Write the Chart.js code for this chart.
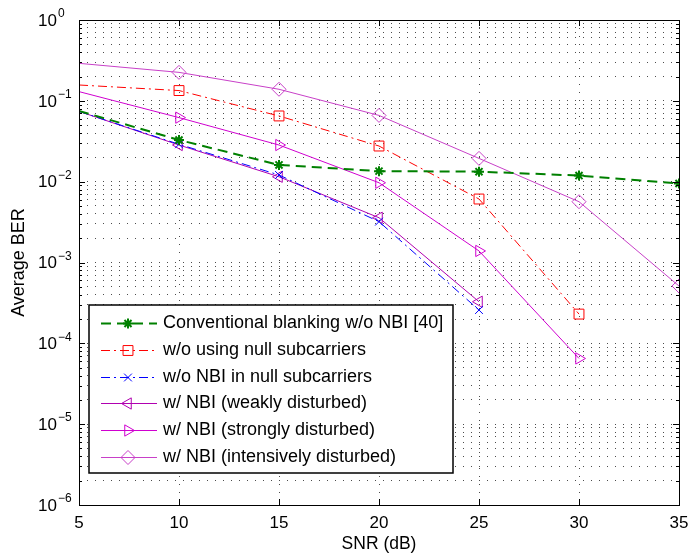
<!DOCTYPE html>
<html>
<head>
<meta charset="utf-8">
<script src="https://cdn.jsdelivr.net/npm/chart.js@4/dist/chart.umd.min.js"></script>
<style>
  html, body { margin: 0; padding: 0; background: #fff; }
  #berChart { display: block; }
</style>
</head>
<body>
<canvas id="berChart" width="691" height="558"></canvas>
<script>
// SNR points (dB) and average BER
const snrDb = [5, 10, 15, 20, 25, 30, 35];
const conventionalBlanking = [0.075, 0.0328, 0.0161, 0.0135, 0.0133, 0.0119, 0.0095];
const withoutNullSubcarriers = [0.157, 0.134, 0.065, 0.0276, 0.0061, 0.00023];
const noNbiInNull = [0.074, 0.029, 0.0121, 0.0032, 0.000258];
const nbiWeakly = [0.074, 0.0284, 0.0115, 0.00358, 0.000327];
const nbiStrongly = [0.130, 0.062, 0.0284, 0.0097, 0.00139, 0.000065];
const nbiIntensively = [0.291, 0.225, 0.139, 0.066, 0.0194, 0.00565, 0.000512];

const xTickLabels = [5, 10, 15, 20, 25, 30, 35];
const yDecades = [0, -1, -2, -3, -4, -5, -6];
const yMinorSteps = [1, 2, 3, 4, 5, 6, 7, 8, 9];

const family = "'Liberation Sans', Arial, Helvetica, sans-serif";

// grid lines at every 1..9 x 10^n like the matlab minor grid
const yGridValues = [];
yDecades.slice(1).forEach(e => {
  yMinorSteps.forEach(m => yGridValues.push(m * Math.pow(10, e)));
});
yGridValues.push(1);

function toPoints(values) {
  return values.map((v, i) => ({ x: snrDb[i], y: v }));
}

function series(label, values, color, dash, width, style, size, rotation, markerWidth) {
  return {
    label: label,
    data: toPoints(values),
    borderColor: color,
    borderWidth: width,
    borderDash: dash,
    pointStyle: style,
    pointRotation: rotation,
    markerSize: size,
    pointRadius: ctx => ctx.dataIndex === 0 ? 0 : size,
    pointBorderColor: color,
    pointBackgroundColor: 'rgba(0,0,0,0)',
    pointBorderWidth: markerWidth,
    fill: false,
    tension: 0
  };
}

const datasets = [
  series('Conventional blanking w/o NBI [40]', conventionalBlanking, '#008000', [10, 6], 2, 'star', 5, 0, 2),
  series('w/o using null subcarriers', withoutNullSubcarriers, '#ff0000', [9, 4, 2, 4], 1, 'rect', 7, 0, 1),
  series('w/o NBI in null subcarriers', noNbiInNull, '#0000ff', [9, 4, 2, 4], 1, 'crossRot', 5.5, 0, 1),
  series('w/ NBI (weakly disturbed)', nbiWeakly, '#b000b0', [], 1, 'triangle', 6.5, -90, 1),
  series('w/ NBI (strongly disturbed)', nbiStrongly, '#d000d0', [], 1, 'triangle', 6.5, 90, 1),
  series('w/ NBI (intensively disturbed)', nbiIntensively, '#c840c8', [], 1, 'rectRot', 7, 0, 1)
];

const matlabFrame = {
  id: 'matlabFrame',
  afterDraw(chart) {
    const ctx = chart.ctx;
    const area = chart.chartArea;
    const xs = chart.scales.x;
    const ys = chart.scales.y;
    ctx.save();

    // inner tick marks
    ctx.strokeStyle = '#000';
    ctx.lineWidth = 1;
    ctx.setLineDash([]);
    ctx.beginPath();
    yGridValues.forEach(v => {
      const y = Math.round(ys.getPixelForValue(v)) + 0.5;
      const lg = Math.log10(v);
      const len = Math.abs(lg - Math.round(lg)) < 1e-9 ? 6 : 3;
      ctx.moveTo(area.left, y); ctx.lineTo(area.left + len, y);
      ctx.moveTo(area.right, y); ctx.lineTo(area.right - len, y);
    });
    xTickLabels.forEach(v => {
      const x = Math.round(xs.getPixelForValue(v)) + 0.5;
      ctx.moveTo(x, area.bottom); ctx.lineTo(x, area.bottom - 6);
      ctx.moveTo(x, area.top); ctx.lineTo(x, area.top + 6);
    });
    ctx.stroke();
    ctx.strokeRect(area.left + 0.5, area.top + 0.5, area.right - area.left, area.bottom - area.top);

    // y tick labels 10^n
    ctx.fillStyle = '#000';
    ctx.textBaseline = 'middle';
    yDecades.forEach(e => {
      const y = ys.getPixelForValue(Math.pow(10, e));
      ctx.font = '17px ' + family;
      ctx.textAlign = 'right';
      ctx.fillText('10', area.left - 22, y + 1);
      ctx.font = '12px ' + family;
      ctx.textAlign = 'left';
      ctx.fillText(e === 0 ? '0' : '\u2212' + (-e), area.left - 21, y - 6);
    });

    // legend box, bottom left inside the axes
    const bx = area.left + 10, by = 305, bw = 364, bh = 168;
    ctx.fillStyle = '#fff';
    ctx.fillRect(bx, by, bw, bh);
    ctx.lineWidth = 1.5;
    ctx.strokeStyle = '#000';
    ctx.strokeRect(bx, by, bw, bh);
    chart.data.datasets.forEach((ds, i) => {
      const cy = Math.round(by + 18 + i * 26.8) + 0.5;
      ctx.strokeStyle = ds.borderColor;
      ctx.lineWidth = ds.borderWidth;
      ctx.setLineDash(ds.borderDash);
      ctx.beginPath();
      ctx.moveTo(bx + 12, cy);
      ctx.lineTo(bx + 68, cy);
      ctx.stroke();
      ctx.setLineDash([]);
      ctx.lineWidth = ds.pointBorderWidth;
      ctx.fillStyle = 'rgba(0,0,0,0)';
      Chart.helpers.drawPoint(ctx, {
        pointStyle: ds.pointStyle,
        rotation: ds.pointRotation,
        radius: ds.markerSize,
        borderWidth: ds.pointBorderWidth
      }, bx + 39, cy);
      ctx.fillStyle = '#000';
      ctx.font = '18px ' + family;
      ctx.textAlign = 'left';
      ctx.textBaseline = 'middle';
      ctx.fillText(ds.label, bx + 74, cy);
    });
    ctx.restore();
  }
};

new Chart(document.getElementById('berChart'), {
  type: 'line',
  data: { datasets: datasets },
  options: {
    responsive: false,
    animation: false,
    devicePixelRatio: 1,
    events: [],
    layout: { padding: { top: 20, right: 12, bottom: 3, left: 0 } },
    plugins: { legend: { display: false }, tooltip: { enabled: false } },
    scales: {
      x: {
        type: 'linear',
        min: 5,
        max: 35,
        afterBuildTicks: scale => { scale.ticks = xTickLabels.map(v => ({ value: v })); },
        afterFit: scale => {
          scale.height = 50;
          scale.paddingLeft = 0;
          scale.paddingRight = 0;
        },
        ticks: { color: '#000', font: { size: 17, family: family }, padding: 8, maxRotation: 0, autoSkip: false },
        grid: { color: 'rgba(0,0,0,0.7)', lineWidth: 1, drawTicks: false },
        border: { display: false, dash: [1, 7] },
        title: { display: true, text: 'SNR (dB)', color: '#000', font: { size: 17.5, family: family }, padding: { top: 0, bottom: 0 } }
      },
      y: {
        type: 'logarithmic',
        min: 1e-6,
        max: 1,
        afterBuildTicks: scale => { scale.ticks = yGridValues.map(v => ({ value: v })); },
        afterFit: scale => { scale.width = 79; },
        ticks: { display: false },
        grid: { color: 'rgba(0,0,0,0.7)', lineWidth: 1, drawTicks: false },
        border: { display: false, dash: [1, 7] },
        title: { display: true, text: 'Average BER', color: '#000', font: { size: 18, family: family }, padding: { top: 8, bottom: 0 } }
      }
    }
  },
  plugins: [matlabFrame]
});
</script>
</body>
</html>
